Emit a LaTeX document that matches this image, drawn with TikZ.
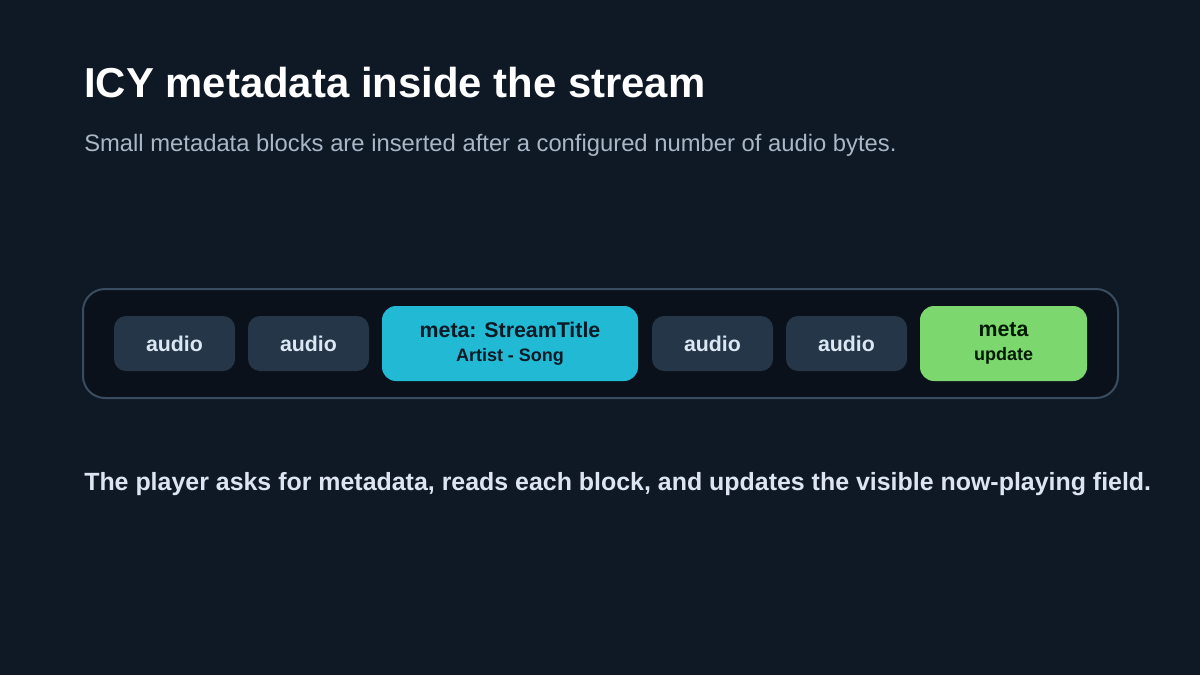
\documentclass[tikz,border=0pt]{standalone}
\usepackage{fontspec}
\setmainfont{Liberation Sans}
\usetikzlibrary{positioning}
\definecolor{bgdark}{HTML}{0F1825}
\definecolor{stripfill}{HTML}{0B111B}
\definecolor{stripline}{HTML}{3A4C5F}
\definecolor{audiofill}{HTML}{253648}
\definecolor{audiotext}{HTML}{DBE7F3}
\definecolor{metacyan}{HTML}{22B9D5}
\definecolor{metagreen}{HTML}{7DD76F}
\definecolor{inktext}{HTML}{0B1A24}
\definecolor{subtext}{HTML}{A9B7C7}
\definecolor{notetext}{HTML}{DDE6F0}
\newcommand{\sublinefont}{\bfseries\fontsize{13.5}{16}\selectfont}
\tikzset{
  audiobox/.style={fill=audiofill,rounded corners=9pt,minimum width=90.75pt,minimum height=41.25pt,
    inner sep=0pt,text=audiotext,font=\bfseries\fontsize{16}{19}\selectfont},
  metabox/.style={rounded corners=10.5pt,minimum height=56.25pt,inner sep=0pt,align=center,
    text=inktext,font=\bfseries\fontsize{16}{18}\selectfont}
}
\begin{document}
\begin{tikzpicture}[x=0.75pt,y=-0.75pt]
    \useasboundingbox[fill=bgdark] (0,0) rectangle (1200,675); % background
    \node[anchor=base west,inner sep=0pt,text=white,font=\bfseries\fontsize{31.4}{36}\selectfont] (title) at (84,97) {ICY metadata inside the stream}; % title
    \node[anchor=base west,inner sep=0pt,text=subtext,font=\fontsize{17.85}{21}\selectfont] (subtitle) at (84,151) {Small metadata blocks are inserted after a configured number of audio bytes.}; % subtitle
    \draw[stripline,line width=1.5pt,fill=stripfill,rounded corners=16.5pt] (83,289) rectangle (1118,398); % stream strip
    \node[audiobox] (audioA) at (174.5,343.5) {audio}; % audio 1
    \node[audiobox] (audioB) at (308.5,343.5) {audio}; % audio 2
    \node[metabox,fill=metacyan,minimum width=192pt] (metaTitle) at (510,343.5) {meta: StreamTitle\\[0pt]{\sublinefont Artist - Song}}; % meta block
    \node[audiobox] (audioC) at (712.5,343.5) {audio}; % audio 3
    \node[audiobox] (audioD) at (846.5,343.5) {audio}; % audio 4
    \node[metabox,fill=metagreen,minimum width=125.25pt,text=black!90!green] (metaUpdate) at (1003.5,343.5) {meta\\[0pt]{\sublinefont update}}; % update block
    \node[anchor=base west,inner sep=0pt,text=notetext,font=\bfseries\fontsize{18.7}{22}\selectfont] (note) at (84,490) {The player asks for metadata, reads each block, and updates the visible now-playing field.}; % bottom note
\end{tikzpicture}
\end{document}
